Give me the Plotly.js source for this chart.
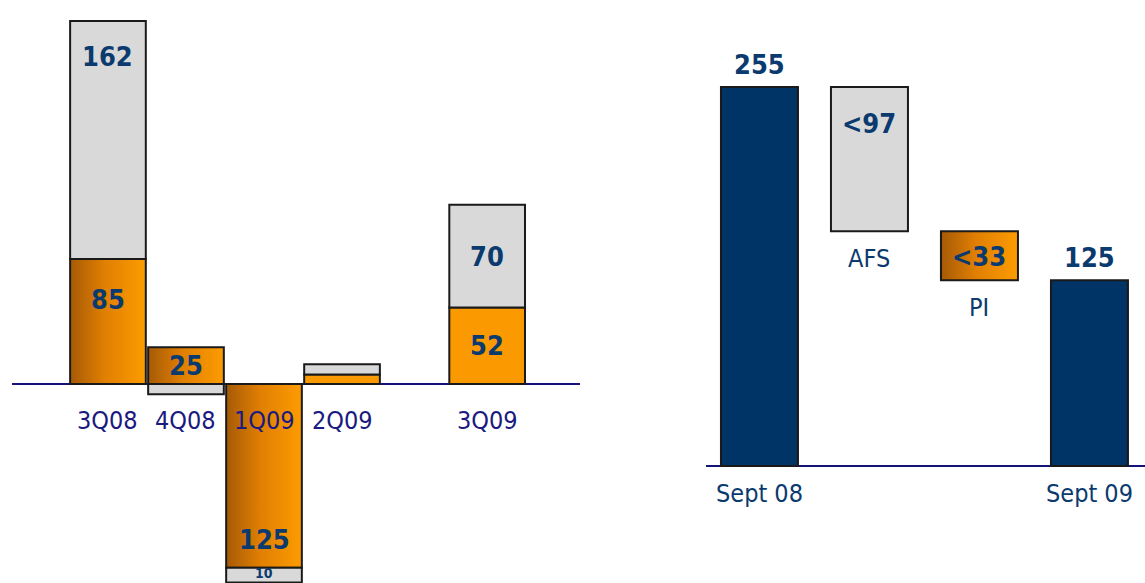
<!DOCTYPE html>
<html>
<head>
<meta charset="utf-8">
<script src="https://cdn.plot.ly/plotly-3.0.1.min.js"></script>
<style>
html,body{margin:0;padding:0;background:#fff;}
#chart{width:1145px;height:583px;}
</style>
</head>
<body>
<div id="chart"></div>
<script>
// ---------- DATA ----------
// Left panel: quarterly figures
const quarters = ["3Q08", "4Q08", "1Q09", "2Q09", "3Q09"];
const orangeVals = [85, 25, -125, 6.5, 52];
const grayVals = [162, -7, -10, 7, 70];
const orangeLabels = ["85", "25", "125", "", "52"];
const grayLabels = ["162", "", "10", "", "70"];

// Right panel: bridge Sept 08 -> Sept 09
const bridgeCats = ["Sept 08", "AFS", "PI", "Sept 09"];
const bridgeVals = [255, -97, -33, 125];
const bridgeKinds = ["total", "relative", "relative", "total"];
const bridgeLabels = ["255", "<97", "<33", "125"];

// ---------- STYLE ----------
const FONT = "'DejaVu Sans Condensed', 'DejaVu Sans', Verdana, sans-serif";
const GRAY = "#d9d9d9";
const ORANGE = "#fb9a00";
const NAVY = "#003366";
const EDGE = "#1a1a1a";
const LABEL_NAVY = "#0b3a6e";
const TICK_LEFT = "#1a1a80";

// slot positions of the quarters on the left axis (layout, not data)
const slots = [0, 1, 2, 3, 4.86];
const LEFT_SCALE = 1.47;   // px per unit
const LEFT_BASE = 384;     // px of zero line

// which left bars get the brown->orange gradient
const gradOrange = [true, true, true, false, false];

const traces = [];
traces.push({
  type: "bar", x: slots, y: orangeVals, width: 0.97,
  xaxis: "x", yaxis: "y",
  marker: {color: ORANGE, line: {color: EDGE, width: 2}},
  hoverinfo: "skip", showlegend: false, name: "orange"
});
traces.push({
  type: "bar", x: slots, y: grayVals, width: 0.97,
  xaxis: "x", yaxis: "y",
  marker: {color: GRAY, line: {color: EDGE, width: 2}},
  hoverinfo: "skip", showlegend: false, name: "gray"
});

// bridge: compute bases
const bases = [], heights = [];
let running = 0;
bridgeVals.forEach((v, i) => {
  if (bridgeKinds[i] === "total") { bases.push(0); heights.push(v); running = v; }
  else { const nb = running + v; bases.push(Math.min(running, nb)); heights.push(Math.abs(v)); running = nb; }
});
const bridgeColors = [NAVY, GRAY, ORANGE, NAVY];
traces.push({
  type: "bar", x: bridgeCats, y: heights, base: bases, width: 0.7,
  xaxis: "x2", yaxis: "y2",
  marker: {color: bridgeColors, line: {color: EDGE, width: 2}},
  hoverinfo: "skip", showlegend: false, name: "bridge"
});

// ---------- ANNOTATIONS ----------
const W = 1145, H = 583;
const ann = [];
const valFont = {family: FONT, size: 27, color: LABEL_NAVY, weight: "bold"};
const catFont = {family: FONT, size: 25, color: LABEL_NAVY};
const yMinLeft = -(H - LEFT_BASE) / LEFT_SCALE;
// left value labels
quarters.forEach((q, i) => {
  const o = orangeVals[i], g = grayVals[i];
  if (orangeLabels[i]) {
    let y = o / 2, ys = 0;
    if (i === 0) { y = o; ys = -40; }
    if (i === 2) { y = o; ys = 28; }
    ann.push({xref: "x", yref: "y", x: slots[i], y: y, yshift: ys, text: "<b>" + orangeLabels[i] + "</b>",
      showarrow: false, font: valFont, xanchor: "center", yanchor: "middle"});
  }
  if (grayLabels[i]) {
    const base = (g >= 0) === (o >= 0) ? o : 0;
    let y = base + g / 2, ys = 0, f = valFont;
    if (i === 0) { y = base + g; ys = -36; }
    if (i === 2) {
      // thin bar at the picture edge: keep its small label fully inside the picture
      y = base + g / 2;
      ys = (LEFT_BASE - y * LEFT_SCALE) - (H - 10);
      f = {family: FONT, size: 14, color: LABEL_NAVY, weight: "bold"};
    }
    ann.push({xref: "x", yref: "y", x: slots[i], y: y, yshift: ys, text: "<b>" + grayLabels[i] + "</b>",
      showarrow: false, font: f, xanchor: "center", yanchor: "middle"});
  }
  // category label
  ann.push({xref: "x", yref: "y", x: slots[i], y: 0, yshift: -36, text: q, showarrow: false,
    font: {family: FONT, size: 25, color: TICK_LEFT}, xanchor: "center", yanchor: "middle"});
});
// right labels
bridgeCats.forEach((c, i) => {
  const top = bases[i] + heights[i];
  if (bridgeKinds[i] === "total") {
    ann.push({xref: "x2", yref: "y2", x: c, y: top, yshift: 23, text: "<b>" + bridgeLabels[i] + "</b>",
      showarrow: false, font: valFont, xanchor: "center", yanchor: "middle"});
  } else if (i === 1) {
    ann.push({xref: "x2", yref: "y2", x: c, y: top, yshift: -36, text: "<b>" + bridgeLabels[i] + "</b>",
      showarrow: false, font: valFont, xanchor: "center", yanchor: "middle"});
  } else {
    ann.push({xref: "x2", yref: "y2", x: c, y: bases[i] + heights[i] / 2, yshift: -1, text: "<b>" + bridgeLabels[i] + "</b>",
      showarrow: false, font: valFont, xanchor: "center", yanchor: "middle"});
  }
  ann.push({xref: "x2", yref: "y2", x: c, y: bases[i], yshift: -27, text: c, showarrow: false,
    font: catFont, xanchor: "center", yanchor: "middle"});
});

const layout = {
  width: W, height: H,
  margin: {l: 0, r: 0, t: 0, b: 0},
  paper_bgcolor: "#fff", plot_bgcolor: "rgba(0,0,0,0)",
  barmode: "relative",
  showlegend: false,
  xaxis: {domain: [12 / W, 580 / W], range: [-1.23, 6.05], visible: true, showticklabels: false,
    showgrid: false, zeroline: false, showline: false, ticks: "", fixedrange: true},
  yaxis: {domain: [0, 1], range: [yMinLeft, LEFT_BASE / LEFT_SCALE], showticklabels: false, showgrid: false,
    zeroline: true, zerolinecolor: "#14147a", zerolinewidth: 2, showline: false, ticks: "", fixedrange: true},
  xaxis2: {domain: [706 / W, 1], range: [-0.486, 3.505], anchor: "y2", type: "category", showticklabels: false,
    showgrid: false, zeroline: false, showline: false, ticks: "", fixedrange: true},
  yaxis2: {domain: [0, 1], anchor: "x2", range: [-(H - 466) / 1.486, 466 / 1.486], showticklabels: false,
    showgrid: false, zeroline: true, zerolinecolor: "#14147a", zerolinewidth: 2, showline: false, ticks: "", fixedrange: true},
  annotations: ann
};

Plotly.newPlot("chart", traces, layout, {displayModeBar: false, staticPlot: true}).then(gd => {
  // add horizontal brown->orange gradient
  const svg = gd.querySelector(".main-svg");
  const NS = "http://www.w3.org/2000/svg";
  let defs = svg.querySelector("defs");
  if (!defs) { defs = document.createElementNS(NS, "defs"); svg.insertBefore(defs, svg.firstChild); }
  const lg = document.createElementNS(NS, "linearGradient");
  lg.setAttribute("id", "brownOrange");
  lg.setAttribute("x1", "0"); lg.setAttribute("y1", "0"); lg.setAttribute("x2", "1"); lg.setAttribute("y2", "0");
  [["0", "#a65a06"], ["0.45", "#e07f02"], ["1", "#fd9c00"]].forEach(([o, c]) => {
    const s = document.createElementNS(NS, "stop");
    s.setAttribute("offset", o); s.setAttribute("stop-color", c); lg.appendChild(s);
  });
  defs.appendChild(lg);
  const barTraces = gd.querySelectorAll(".barlayer .trace");
  const pts0 = barTraces[0].querySelectorAll(".point path");
  pts0.forEach((p, i) => { if (gradOrange[i]) p.style.fill = "url(#brownOrange)"; });
  const pts2 = barTraces[2].querySelectorAll(".point path");
  if (pts2[2]) pts2[2].style.fill = "url(#brownOrange)";
});
</script>
</body>
</html>
